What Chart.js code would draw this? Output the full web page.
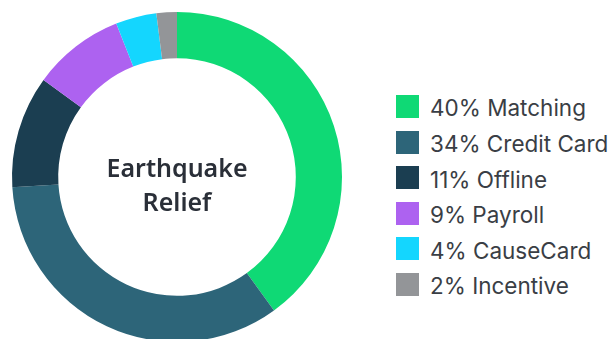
<!DOCTYPE html>
<html lang="en">
<head>
    <meta charset="UTF-8">
    <title>Earthquake Relief</title>
    <style>
        html, body { margin: 0; padding: 0; background: #fff; overflow: hidden; }
        #wrap { position: relative; width: 610px; height: 339px; }
        #chartBox { position: absolute; left: 0; top: 0; width: 354px; height: 342px; }
        #legend { position: absolute; left: 396px; top: 88.7px; margin: 0; padding: 0; list-style: none; }
        #legend li {
            display: flex; align-items: center; height: 35.6px;
            font-family: "Inter", sans-serif; font-size: 22.5px; color: #3a3e45; white-space: nowrap;
        }
        #legend .box { width: 23px; height: 23px; margin-right: 11px; flex: none; }
        #legend .txt { padding-top: 3px; }
    </style>
</head>
<body>
    <div id="wrap">
        <div id="chartBox"><canvas id="reliefChart"></canvas></div>
        <ul id="legend"></ul>
    </div>

    <script src="https://cdn.jsdelivr.net/npm/chart.js"></script>
    <script>
        const categories = ['Matching', 'Credit Card', 'Offline', 'Payroll', 'CauseCard', 'Incentive'];
        const shares = [40, 34, 11, 9, 4, 2];
        const colors = ['#0fd975', '#2d6579', '#1b3e51', '#ad62f0', '#14d6fe', '#939598'];
        const centerLines = ['Earthquake', 'Relief'];

        // title in the hole of the doughnut
        const centerText = {
            id: 'centerText',
            afterDraw(chart) {
                const {ctx, chartArea} = chart;
                const cx = (chartArea.left + chartArea.right) / 2;
                const cy = (chartArea.top + chartArea.bottom) / 2;
                ctx.save();
                ctx.font = '600 25px "Noto Sans"';
                ctx.fillStyle = '#2a2f38';
                ctx.textAlign = 'center';
                ctx.textBaseline = 'alphabetic';
                ctx.fillText(centerLines[0], cx, cy);
                ctx.fillText(centerLines[1], cx, cy + 33.5);
                ctx.restore();
            }
        };

        // legend built as a list next to the canvas
        const htmlLegend = {
            id: 'htmlLegend',
            afterUpdate(chart) {
                const ul = document.getElementById('legend');
                ul.innerHTML = '';
                const items = chart.options.plugins.legend.labels.generateLabels(chart);
                items.forEach((item, i) => {
                    const li = document.createElement('li');
                    const box = document.createElement('span');
                    box.className = 'box';
                    box.style.background = item.fillStyle;
                    const txt = document.createElement('span');
                    txt.className = 'txt';
                    txt.textContent = shares[i] + '% ' + item.text;
                    li.appendChild(box);
                    li.appendChild(txt);
                    ul.appendChild(li);
                });
            }
        };

        new Chart(document.getElementById('reliefChart'), {
            type: 'doughnut',
            data: {
                labels: categories,
                datasets: [{
                    data: shares,
                    backgroundColor: colors,
                    borderWidth: 0
                }]
            },
            options: {
                responsive: true,
                maintainAspectRatio: false,
                animation: false,
                cutout: '72%',
                layout: { padding: { left: 12, right: 12, top: 12, bottom: 0 } },
                plugins: {
                    legend: { display: false },
                    tooltip: { enabled: false }
                }
            },
            plugins: [centerText, htmlLegend]
        });
    </script>
</body>
</html>
